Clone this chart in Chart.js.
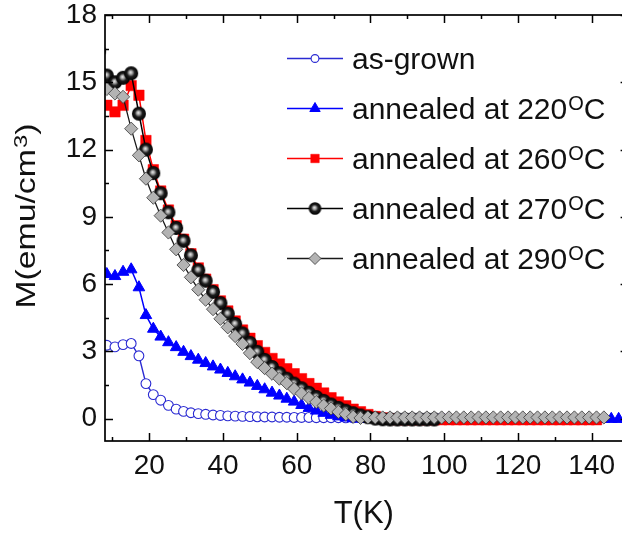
<!DOCTYPE html>
<html><head><meta charset="utf-8">
<script src="https://cdn.jsdelivr.net/npm/chart.js@4/dist/chart.umd.min.js"></script>
<style>
html,body{margin:0;padding:0;overflow:hidden;background:#fff;width:622px;height:533px}
#wrap{position:relative;width:640px;height:533px}
</style>
</head><body>
<div id="wrap"><canvas id="c" width="640" height="533"></canvas></div>
<script>
// ---- data ----
const temps = [6.4, 8.5, 10.7, 12.9, 15.1, 17.2, 19.1, 21.1, 23.1, 25.2,
  27.3, 29.3, 31.3, 33.3, 35.3, 37.3, 39.3, 41.3, 43.3, 45.3,
  47.3, 49.3, 51.3, 53.3, 55.3, 57.3, 59.3, 61.3, 63.3, 65.3,
  67.3, 69.3, 71.3, 73.3, 75.3, 77.3, 79.3, 81.3, 83.3, 85.3,
  87.3, 89.3, 91.3, 93.3, 95.3, 97.3, 99.3, 101.3, 103.3, 105.3,
  107.3, 109.3, 111.3, 113.3, 115.3, 117.3, 119.3, 121.3, 123.3, 125.3,
  127.3, 129.3, 131.3, 133.3, 135.3, 137.3, 139.3, 141.3, 143.3, 145.3,
  147.3, 149.3];

const asGrown = [3.9, 3.27, 3.2, 3.3, 3.35, 2.8, 1.56, 1.07, 0.82, 0.59,
  0.42, 0.32, 0.26, 0.22, 0.19, 0.16, 0.14, 0.12, 0.11, 0.1,
  0.09, 0.08, 0.07, 0.07, 0.06, 0.06, 0.05, 0.05, 0.05, 0.04,
  0.04, 0.04, 0.04, 0.03, 0.03, 0.03, 0.03, 0.03, 0.03, 0.03,
  0.03, 0.03, 0.03, 0.03, 0.03, 0.03, 0.03];

const ann220 = [7.4, 6.44, 6.35, 6.54, 6.65, 5.85, 4.61, 4.0, 3.65, 3.4,
  3.18, 2.97, 2.78, 2.62, 2.47, 2.32, 2.18, 2.03, 1.88, 1.74,
  1.6, 1.45, 1.3, 1.15, 1.02, 0.88, 0.75, 0.6, 0.47, 0.35,
  0.25, 0.16, 0.09, 0.04, 0.01, -0.01, -0.02, -0.02, -0.02, -0.02,
  -0.02, -0.02, -0.02, -0.02, -0.02, -0.02, -0.02, -0.02, -0.02, -0.02,
  -0.02, -0.02, -0.02, -0.02, -0.02, -0.02, -0.02, -0.02, -0.02, -0.02,
  -0.02, -0.02, -0.02, -0.02, -0.02, -0.02, -0.02, -0.02, -0.02, -0.02,
  -0.02, -0.02];

const ann260 = [14.3, 13.97, 13.68, 13.97, 14.85, 14.42, 12.4, 11.1, 10.15, 9.3,
  8.6, 8.0, 7.35, 6.72, 6.22, 5.75, 5.25, 4.8, 4.35, 3.95,
  3.58, 3.25, 2.95, 2.68, 2.43, 2.22, 2.0, 1.78, 1.56, 1.35,
  1.14, 0.93, 0.74, 0.57, 0.42, 0.3, 0.18, 0.09, 0.03, -0.02,
  -0.05, -0.05, -0.05, -0.05, -0.05, -0.05, -0.05, -0.05, -0.05, -0.05,
  -0.05, -0.05, -0.05, -0.05, -0.05, -0.05, -0.05, -0.05, -0.05, -0.05,
  -0.05, -0.05, -0.05, -0.05, -0.05, -0.05, -0.05, -0.05];

const ann270 = [16.4, 15.3, 15.0, 15.2, 15.4, 13.6, 12.0, 10.95, 10.05, 9.2,
  8.5, 7.93, 7.28, 6.62, 6.15, 5.65, 5.15, 4.68, 4.22, 3.8,
  3.38, 2.98, 2.62, 2.3, 2.02, 1.78, 1.56, 1.35, 1.15, 0.96,
  0.79, 0.63, 0.48, 0.35, 0.24, 0.14, 0.06, 0.0, -0.03, -0.04,
  -0.04, -0.04, -0.04, -0.04, -0.04, -0.04];

const ann290 = [15.2, 14.7, 14.5, 14.35, 12.93, 11.74, 10.7, 9.85, 9.05, 8.3,
  7.55, 6.85, 6.3, 5.75, 5.3, 4.88, 4.45, 4.07, 3.68, 3.33,
  2.92, 2.52, 2.25, 2.0, 1.78, 1.58, 1.32, 1.12, 0.92, 0.74,
  0.58, 0.45, 0.3, 0.19, 0.08, 0.03, 0.05, 0.05, 0.05, 0.05,
  0.05, 0.05, 0.05, 0.05, 0.05, 0.05, 0.05, 0.05, 0.05, 0.05,
  0.05, 0.05, 0.05, 0.05, 0.05, 0.05, 0.05, 0.05, 0.05, 0.05,
  0.05, 0.05, 0.05, 0.05, 0.05, 0.05, 0.05, 0.05, 0.05];

const seriesLabels = ['as-grown', 'annealed at 220ᴼC', 'annealed at 260ᴼC', 'annealed at 270ᴼC', 'annealed at 290ᴼC'];
const xTickValues = [20, 40, 60, 80, 100, 120, 140];
const xMinorTicks = [10, 30, 50, 70, 90, 110, 130, 150];
const yTickValues = [0, 3, 6, 9, 12, 15, 18];
const yMinorTicks = [1.5, 4.5, 7.5, 10.5, 13.5, 16.5];
const xTitle = 'T(K)';
const yTitle = 'M(emu/cm³)';

// ---- styling helpers ----
const FONT = '"Liberation Sans", Arimo, Arial, sans-serif';
function makeSphere(r) {
  const s = Math.ceil(2 * r + 2);
  const c = document.createElement('canvas');
  c.width = s; c.height = s;
  const g = c.getContext('2d');
  const cx = s / 2, cy = s / 2;
  const gr = g.createRadialGradient(cx - r * 0.1, cy - r * 0.15, 0, cx, cy, r);
  gr.addColorStop(0, '#f2f2f2');
  gr.addColorStop(0.28, '#9a9a9a');
  gr.addColorStop(0.55, '#1e1e1e');
  gr.addColorStop(1, '#000');
  g.fillStyle = gr;
  g.beginPath(); g.arc(cx, cy, r, 0, Math.PI * 2); g.fill();
  return c;
}
const sphere = makeSphere(7);
const sphereLegend = makeSphere(6.3);

const toXY = arr => arr.map((v, i) => ({x: temps[i], y: v}));

const datasets = [
  {label: seriesLabels[0], data: toXY(asGrown), borderColor: '#2a2ad2', borderWidth: 1.4,
   pointStyle: 'circle', pointRadius: 4.9, pointBackgroundColor: '#fff', pointBorderColor: '#2a2ad2', pointBorderWidth: 1.1, order: 5,
   legendStyle: {pointStyle: 'circle', radius: 3.9}},
  {label: seriesLabels[1], data: toXY(ann220), borderColor: '#0000ff', borderWidth: 1.5,
   pointStyle: 'triangle', pointRadius: 6.7, pointBackgroundColor: '#0000ff', pointBorderColor: '#0000ff', pointBorderWidth: 1, order: 4,
   legendStyle: {pointStyle: 'triangle', radius: 6}},
  {label: seriesLabels[2], data: toXY(ann260), borderColor: '#ff0000', borderWidth: 1.5,
   pointStyle: 'rect', pointRadius: 7.4, pointBackgroundColor: '#ff0000', pointBorderColor: '#ff0000', pointBorderWidth: 0.5, order: 3,
   legendStyle: {pointStyle: 'rect', radius: 6}},
  {label: seriesLabels[3], data: toXY(ann270), borderColor: '#000', borderWidth: 1.5,
   pointStyle: sphere, pointRadius: 7, order: 2,
   legendStyle: {pointStyle: sphereLegend, radius: 6.3}},
  {label: seriesLabels[4], data: toXY(ann290), borderColor: '#1a1a1a', borderWidth: 1.3,
   pointStyle: 'rectRot', pointRadius: 6.6, pointBackgroundColor: '#b3b3b3', pointBorderColor: '#3a3a3a', pointBorderWidth: 0.8, order: 1,
   legendStyle: {pointStyle: 'rectRot', radius: 6}}
];

function drawRich(ctx, text, x, y, size, supChar, supText, supScale) {
  const parts = text.split(supChar);
  ctx.font = size + 'px ' + FONT;
  ctx.fillText(parts[0], x, y);
  x += ctx.measureText(parts[0]).width;
  if (parts.length > 1) {
    const ss = Math.round(size * supScale);
    ctx.font = ss + 'px ' + FONT;
    ctx.fillText(supText, x + 1, y - size * 0.3);
    x += ctx.measureText(supText).width + 1;
    ctx.font = size + 'px ' + FONT;
    ctx.fillText(parts[1], x, y);
    x += ctx.measureText(parts[1]).width;
  }
  return x;
}
function richWidth(ctx, text, size, supChar, supText, supScale) {
  const parts = text.split(supChar);
  ctx.font = size + 'px ' + FONT;
  let w = ctx.measureText(parts[0]).width;
  if (parts.length > 1) {
    ctx.font = Math.round(size * supScale) + 'px ' + FONT;
    w += ctx.measureText(supText).width + 1;
    ctx.font = size + 'px ' + FONT;
    w += ctx.measureText(parts[1]).width;
  }
  return w;
}

const decor = {
  id: 'decor',
  afterDraw(chart) {
    const {ctx, chartArea: a, scales: {x, y}} = chart;
    ctx.save();
    ctx.strokeStyle = '#000';
    ctx.lineWidth = 1.7;
    ctx.strokeRect(a.left, a.top, a.right - a.left, a.bottom - a.top);
    ctx.lineWidth = 1.5;
    ctx.beginPath();
    const tx = (vals, len) => vals.forEach(v => {
      const p = Math.round(x.getPixelForValue(v)) + 0.5;
      ctx.moveTo(p, a.bottom); ctx.lineTo(p, a.bottom - len);
      ctx.moveTo(p, a.top); ctx.lineTo(p, a.top + len);
    });
    const ty = (vals, len) => vals.forEach(v => {
      const p = Math.round(y.getPixelForValue(v)) + 0.5;
      ctx.moveTo(a.left, p); ctx.lineTo(a.left + len, p);
      ctx.moveTo(a.right, p); ctx.lineTo(a.right - len, p);
    });
    tx(xTickValues, 8); tx(xMinorTicks, 4);
    ty(yTickValues, 8); ty(yMinorTicks, 4);
    ctx.stroke();

    // axis titles
    ctx.fillStyle = '#111';
    ctx.textBaseline = 'alphabetic';
    ctx.textAlign = 'center';
    ctx.font = '31px ' + FONT;
    ctx.fillText(xTitle, (a.left + a.right) / 2 - 3, 523);

    ctx.save();
    ctx.translate(35, 216);
    ctx.rotate(-Math.PI / 2);
    ctx.scale(1.25, 1);
    ctx.textAlign = 'left';
    const yw = richWidth(ctx, yTitle, 27, '³', '3', 0.7);
    drawRich(ctx, yTitle, -yw / 2, 0, 27, '³', '3', 0.7);
    ctx.restore();

    // legend
    ctx.textAlign = 'left';
    chart.data.datasets.forEach((ds, i) => {
      const ly = 58.5 + 50 * i;
      ctx.strokeStyle = ds.borderColor;
      ctx.lineWidth = 1.5;
      ctx.beginPath(); ctx.moveTo(287, ly); ctx.lineTo(343, ly); ctx.stroke();
      ctx.fillStyle = ds.pointBackgroundColor || '#000';
      ctx.strokeStyle = ds.pointBorderColor || ds.borderColor;
      ctx.lineWidth = ds.pointBorderWidth || 1;
      Chart.helpers.drawPoint(ctx, {pointStyle: ds.legendStyle.pointStyle, radius: ds.legendStyle.radius, rotation: 0, borderWidth: ds.pointBorderWidth || 0}, 315, ly);
      ctx.fillStyle = '#111';
      drawRich(ctx, ds.label, 352, ly + 10, 30, 'ᴼ', 'O', 0.66);
    });
    ctx.restore();
  }
};

new Chart(document.getElementById('c'), {
  type: 'line',
  data: {datasets},
  options: {
    responsive: false,
    animation: false,
    devicePixelRatio: 1,
    layout: {padding: {top: 15, right: 11.4, bottom: 0, left: 0}},
    elements: {line: {tension: 0}},
    plugins: {legend: {display: false}, tooltip: {enabled: false}},
    scales: {
      x: {
        type: 'linear', min: 8, max: 150,
        grid: {display: false, drawTicks: false}, border: {display: false},
        ticks: {font: {family: FONT, size: 28}, color: '#111', padding: 8, maxRotation: 0, autoSkip: false},
        afterBuildTicks: s => { s.ticks = xTickValues.map(v => ({value: v})); },
        afterFit: s => { s.height = 92; s.paddingLeft = 0; s.paddingRight = 0; }
      },
      y: {
        type: 'linear', min: -1, max: 18,
        grid: {display: false, drawTicks: false}, border: {display: false},
        ticks: {font: {family: FONT, size: 28}, color: '#111', padding: 8, autoSkip: false},
        afterBuildTicks: s => { s.ticks = yTickValues.map(v => ({value: v})); },
        afterFit: s => { s.width = 105; s.paddingTop = 0; s.paddingBottom = 0; }
      }
    }
  },
  plugins: [decor]
});
</script>
</body></html>
